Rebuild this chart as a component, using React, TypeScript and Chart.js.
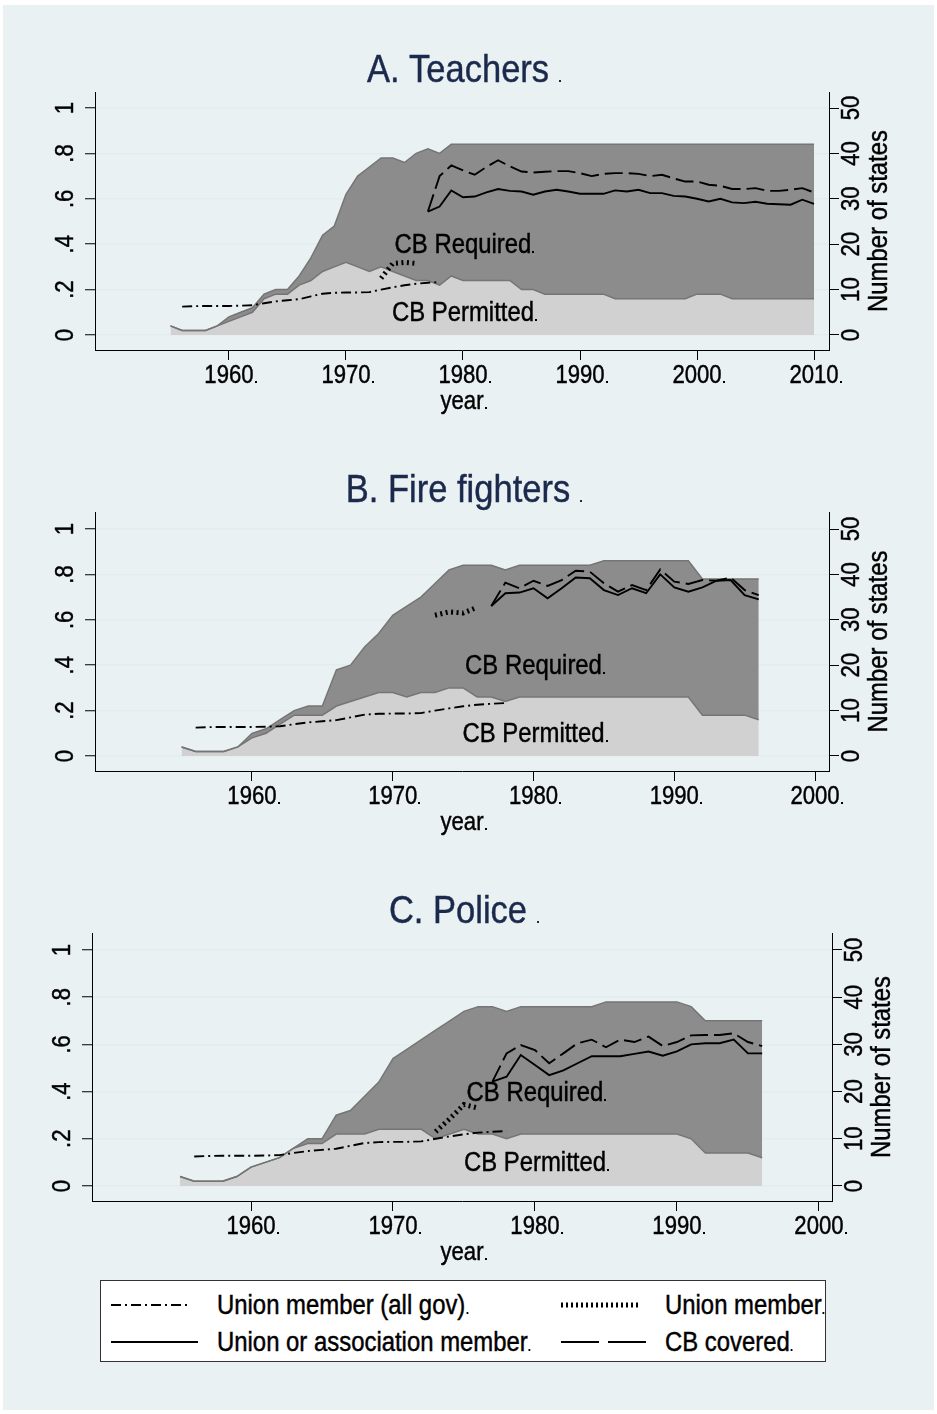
import React, { useEffect, useRef } from "react";
import { Chart, registerables } from "chart.js";

Chart.register(...registerables);

const FONT = '"Liberation Sans", Arial, Helvetica, sans-serif';
const TITLE_COLOR = "#1b2a4c";
const BG = "#eaf1f3";
const GRID = "#e3ecef";
const DARK = "#8c8c8c";
const LIGHT = "#d1d1d1";
const EDGE = "#757575";
const SQ = 0.885; // horizontal condensing of the text

// ---------- ticks ----------
const xTicksTeachers = [1960, 1970, 1980, 1990, 2000, 2010];
const xTicksOther = [1960, 1970, 1980, 1990, 2000];
const shareTicks = [0, 0.2, 0.4, 0.6, 0.8, 1];
const shareTickLabels = ["0", ".2", ".4", ".6", ".8", "1"];
const stateTicks = [0, 10, 20, 30, 40, 50];
const stateTickLabels = ["0", "10", "20", "30", "40", "50"];

// ---------- first years of each series ----------
const areaStartYear = 1955;
const allGovStartYear = 1956;
const unionStartYear = 1973;
const memberStartYear = 1977;

// ---------- shared series (share of workers) ----------
const unionMemberAllGov = [
  0.125, 0.127, 0.128, 0.128, 0.128, 0.129, 0.131, 0.14, 0.148, 0.153, 0.158, 0.17,
  0.182, 0.186, 0.187, 0.187, 0.189, 0.2, 0.21, 0.219, 0.226, 0.23, 0.233,
];

// ---------- A. Teachers ----------
const teachersPermitted = [
  2, 1, 1, 1, 2, 3, 4, 5, 8, 9,
  9, 11, 12, 14, 15, 16, 15, 14, 15, 14,
  13, 12, 12, 11, 13, 12, 12, 12, 12, 12,
  10, 10, 9, 9, 9, 9, 9, 9, 8, 8,
  8, 8, 8, 8, 8, 9, 9, 9, 8, 8,
  8, 8, 8, 8, 8, 8,
];
const teachersRequired = [
  0, 0, 0, 0, 0, 1, 1, 1, 1, 1,
  1, 2, 5, 8, 9, 15, 20, 23, 24, 25,
  25, 28, 29, 29, 29, 30, 30, 30, 30, 30,
  32, 32, 33, 33, 33, 33, 33, 33, 34, 34,
  34, 34, 34, 34, 34, 33, 33, 33, 34, 34,
  34, 34, 34, 34, 34, 34,
];
const teachersUnionMember = [0.25, 0.315, 0.32, 0.315];
const teachersUnionOrAssoc = [
  0.544, 0.566, 0.637, 0.607, 0.61, 0.628, 0.643, 0.635, 0.632, 0.618,
  0.632, 0.64, 0.632, 0.622, 0.622, 0.622, 0.637, 0.632, 0.64, 0.625,
  0.625, 0.613, 0.61, 0.6, 0.588, 0.6, 0.584, 0.581, 0.587, 0.578,
  0.576, 0.574, 0.596, 0.578,
];
const teachersCBCovered = [
  0.544, 0.7, 0.747, 0.725, 0.706, 0.74, 0.77, 0.743, 0.72, 0.716,
  0.719, 0.722, 0.722, 0.713, 0.7, 0.71, 0.713, 0.713, 0.71, 0.7,
  0.706, 0.69, 0.676, 0.676, 0.662, 0.657, 0.643, 0.643, 0.647, 0.635,
  0.635, 0.64, 0.647, 0.628,
];

// ---------- B. Fire fighters ----------
const firePermitted = [
  2, 1, 1, 1, 2, 4, 5, 7, 9, 9,
  9, 11, 12, 13, 14, 14, 13, 14, 14, 15,
  15, 13, 13, 12, 13, 13, 13, 13, 13, 13,
  13, 13, 13, 13, 13, 13, 13, 9, 9, 9,
  9, 8,
];
const fireRequired = [
  0, 0, 0, 0, 0, 1, 1, 1, 1, 2,
  2, 8, 8, 11, 13, 17, 20, 21, 24, 26,
  27, 29, 29, 29, 29, 29, 29, 29, 29, 29,
  30, 30, 30, 30, 30, 30, 30, 30, 30, 30,
  30, 31,
];
const fireUnionMember = [0.62, 0.635, 0.63, 0.655];
const fireUnionOrAssoc = [
  0.661, 0.717, 0.72, 0.739, 0.695, 0.739, 0.786, 0.783, 0.731, 0.709,
  0.739, 0.717, 0.8, 0.743, 0.724, 0.743, 0.772, 0.775, 0.709, 0.69,
];
const fireCBCovered = [
  0.661, 0.764, 0.739, 0.772, 0.749, 0.775, 0.816, 0.812, 0.761, 0.724,
  0.753, 0.731, 0.822, 0.768, 0.758, 0.775, 0.772, 0.786, 0.731, 0.709,
];

// ---------- C. Police ----------
const policePermitted = [
  2, 1, 1, 1, 2, 4, 5, 6, 8, 9,
  9, 11, 11, 11, 12, 12, 12, 12, 10, 11,
  12, 11, 11, 10, 11, 11, 11, 11, 11, 11,
  11, 11, 11, 11, 11, 11, 10, 7, 7, 7,
  7, 6,
];
const policeRequired = [
  0, 0, 0, 0, 0, 0, 0, 0, 0, 1,
  1, 4, 5, 8, 10, 15, 17, 19, 23, 24,
  25, 27, 27, 27, 27, 27, 27, 27, 27, 27,
  28, 28, 28, 28, 28, 28, 28, 28, 28, 28,
  28, 29,
];
const policeUnionMember = [0.23, 0.285, 0.345, 0.33];
const policeUnionOrAssoc = [
  0.442, 0.463, 0.555, 0.513, 0.47, 0.49, 0.52, 0.55, 0.55, 0.55,
  0.56, 0.57, 0.552, 0.57, 0.6, 0.605, 0.605, 0.62, 0.562, 0.562,
];
const policeCBCovered = [
  0.442, 0.562, 0.597, 0.576, 0.52, 0.562, 0.605, 0.62, 0.588, 0.62,
  0.61, 0.633, 0.593, 0.61, 0.638, 0.64, 0.64, 0.647, 0.61, 0.593,
];

const labelRequired = "CB Required";
const labelPermitted = "CB Permitted";
const labelPosYear = 1980;
const labelRequiredY = 0.4;
const labelPermittedY = 0.1;

type Panel = {
  title: string;
  permitted: number[];
  required: number[];
  unionMember: number[];
  unionOrAssoc: number[];
  cbCovered: number[];
  xTicks: number[];
  xMin: number;
  xMax: number;
  yMin: number;
  yMax: number;
  top: number;
  height: number;
  pad: { left: number; right: number; top: number; bottom: number };
};

const W = 931;

const panels: Panel[] = [
  {
    title: "A. Teachers",
    permitted: teachersPermitted,
    required: teachersRequired,
    unionMember: teachersUnionMember,
    unionOrAssoc: teachersUnionOrAssoc,
    cbCovered: teachersCBCovered,
    xTicks: xTicksTeachers,
    xMin: 1948.55,
    xMax: 2011.28,
    yMin: -0.0661,
    yMax: 1.0705,
    top: 0,
    height: 420,
    pad: { left: 82, right: 95, top: 87, bottom: 65 },
  },
  {
    title: "B. Fire fighters",
    permitted: firePermitted,
    required: fireRequired,
    unionMember: fireUnionMember,
    unionOrAssoc: fireUnionOrAssoc,
    cbCovered: fireCBCovered,
    xTicks: xTicksOther,
    xMin: 1948.85,
    xMax: 2000.99,
    yMin: -0.0661,
    yMax: 1.0749,
    top: 420,
    height: 420,
    pad: { left: 82, right: 95, top: 87, bottom: 64 },
  },
  {
    title: "C. Police",
    permitted: policePermitted,
    required: policeRequired,
    unionMember: policeUnionMember,
    unionOrAssoc: policeUnionOrAssoc,
    cbCovered: policeCBCovered,
    xTicks: xTicksOther,
    xMin: 1948.8,
    xMax: 2000.92,
    yMin: -0.0636,
    yMax: 1.072,
    top: 840,
    height: 425,
    pad: { left: 79, right: 92, top: 88, bottom: 59 },
  },
];

const pts = (start: number, vals: number[]) => vals.map((v, i) => ({ x: start + i, y: v }));

function drawText(
  ctx: CanvasRenderingContext2D,
  text: string,
  x: number,
  y: number,
  size: number,
  opts: { rot?: boolean; dot?: number; baseline?: CanvasTextBaseline } = {}
) {
  ctx.save();
  ctx.translate(x, y);
  if (opts.rot) ctx.rotate(-Math.PI / 2);
  ctx.scale(SQ, 1);
  ctx.font = `${size}px ${FONT}`;
  ctx.textAlign = "center";
  ctx.textBaseline = opts.baseline || "alphabetic";
  ctx.fillText(text, 0, 0);
  ctx.lineWidth = 0.45;
  ctx.strokeStyle = ctx.fillStyle as string;
  ctx.strokeText(text, 0, 0);
  const w = ctx.measureText(text).width * SQ;
  ctx.restore();
  if (opts.dot !== undefined) {
    ctx.fillRect(Math.round(x + w / 2 + opts.dot), Math.round(y - 2), 2, 2);
  }
}

function makeTextPlugin(p: Panel) {
  return {
    id: "panelText",
    afterDraw(chart: any) {
      const ctx: CanvasRenderingContext2D = chart.ctx;
      const a = chart.chartArea;
      const xs = chart.scales.x;
      const ys = chart.scales.y;
      const ss = chart.scales.yS;
      const midX = (a.left + a.right) / 2;
      ctx.save();
      // title
      ctx.fillStyle = TITLE_COLOR;
      drawText(ctx, p.title, midX - 4, a.top - 10, 39, { dot: 10 });

      ctx.fillStyle = "#000";
      // x tick labels
      p.xTicks.forEach((t) => {
        drawText(ctx, String(t), xs.getPixelForValue(t), a.bottom + 33, 25, { dot: 1 });
      });
      // x title
      drawText(ctx, "year", midX, a.bottom + 59, 25, { dot: 1 });

      // left y tick labels (rotated)
      shareTicks.forEach((v, i) => {
        drawText(ctx, shareTickLabels[i], a.left - 29, ys.getPixelForValue(v), 25, {
          rot: true,
          baseline: "middle",
        });
      });
      // right y tick labels
      stateTicks.forEach((v, i) => {
        drawText(ctx, stateTickLabels[i], a.right + 23, ss.getPixelForValue(v), 25, {
          rot: true,
          baseline: "middle",
        });
      });
      // right axis title
      drawText(ctx, "Number of states", a.right + 51, (a.top + a.bottom) / 2, 27, {
        rot: true,
        baseline: "middle",
      });

      // area labels
      const lx = xs.getPixelForValue(labelPosYear);
      drawText(ctx, labelRequired, lx, ys.getPixelForValue(labelRequiredY) + 9, 27, { dot: 1 });
      drawText(ctx, labelPermitted, lx, ys.getPixelForValue(labelPermittedY) + 9, 27, { dot: 1 });
      ctx.restore();
    },
  };
}

function PanelChart({ p }: { p: Panel }) {
  const ref = useRef<HTMLCanvasElement | null>(null);
  useEffect(() => {
    if (!ref.current) return;
    const lineBase = { yAxisID: "y", borderColor: "#000", fill: false, pointRadius: 0, tension: 0 };
    const chart = new Chart(ref.current, {
      type: "line",
      data: {
        datasets: [
          {
            label: labelPermitted,
            data: pts(areaStartYear, p.permitted),
            yAxisID: "yS",
            stack: "cb",
            fill: "origin",
            backgroundColor: LIGHT,
            borderColor: EDGE,
            borderWidth: 1.5,
            pointRadius: 0,
            order: 9,
          },
          {
            label: labelRequired,
            data: pts(areaStartYear, p.required),
            yAxisID: "yS",
            stack: "cb",
            fill: "-1",
            backgroundColor: DARK,
            borderColor: EDGE,
            borderWidth: 1.5,
            pointRadius: 0,
            order: 10,
          },
          {
            ...lineBase,
            label: "Union member (all gov)",
            data: pts(allGovStartYear, unionMemberAllGov),
            borderWidth: 1.9,
            borderDash: [10, 4, 2, 4],
            order: 4,
          },
          {
            ...lineBase,
            label: "Union member",
            data: pts(unionStartYear, p.unionMember),
            borderWidth: 5,
            borderDash: [2, 3.5],
            order: 3,
          },
          {
            ...lineBase,
            label: "Union or association member",
            data: pts(memberStartYear, p.unionOrAssoc),
            borderWidth: 1.9,
            order: 2,
          },
          {
            ...lineBase,
            label: "CB covered",
            data: pts(memberStartYear, p.cbCovered),
            borderWidth: 1.9,
            borderDash: [18, 6],
            order: 1,
          },
        ] as any,
      },
      options: {
        animation: false,
        responsive: false,
        devicePixelRatio: 1,
        layout: { padding: p.pad },
        plugins: {
          legend: { display: false },
          tooltip: { enabled: false },
          title: { display: false },
          filler: { drawTime: "beforeDatasetsDraw" },
        } as any,
        scales: {
          x: {
            type: "linear",
            min: p.xMin,
            max: p.xMax,
            grid: { drawOnChartArea: false, drawTicks: true, tickLength: 10, tickColor: "#000", tickWidth: 1 },
            border: { display: true, color: "#000", width: 1 },
            ticks: { display: false },
            afterBuildTicks: (s: any) => {
              s.ticks = p.xTicks.map((v) => ({ value: v }));
            },
            afterFit: (s: any) => {
              s.height = 10;
            },
          },
          y: {
            type: "linear",
            position: "left",
            min: p.yMin,
            max: p.yMax,
            grid: { color: GRID, lineWidth: 1.5, drawTicks: true, tickLength: 10, tickColor: "#000", tickWidth: 1 },
            border: { display: true, color: "#000", width: 1 },
            ticks: { display: false },
            afterBuildTicks: (s: any) => {
              s.ticks = shareTicks.map((v) => ({ value: v }));
            },
            afterFit: (s: any) => {
              s.width = 10;
            },
          },
          yS: {
            type: "linear",
            position: "right",
            stacked: true,
            min: p.yMin * 50,
            max: p.yMax * 50,
            grid: { drawOnChartArea: false, drawTicks: true, tickLength: 10, tickColor: "#000", tickWidth: 1 },
            border: { display: true, color: "#000", width: 1 },
            ticks: { display: false },
            afterBuildTicks: (s: any) => {
              s.ticks = stateTicks.map((v) => ({ value: v }));
            },
            afterFit: (s: any) => {
              s.width = 10;
            },
          },
        } as any,
      },
      plugins: [makeTextPlugin(p)],
    });
    return () => chart.destroy();
  }, [p]);
  return (
    <canvas
      ref={ref}
      width={W}
      height={p.height}
      style={{ position: "absolute", left: 0, top: p.top, width: W, height: p.height, display: "block" }}
    />
  );
}

const legendRows = [
  [
    { label: "Union member (all gov)", dash: "10 4 2 4", width: 1.9, len: 76 },
    { label: "Union member", dash: "2 3", width: 5, len: 80 },
  ],
  [
    { label: "Union or association member", dash: "", width: 1.9, len: 87 },
    { label: "CB covered", dash: "38 9", width: 1.9, len: 85 },
  ],
];

function Legend() {
  const rowCenters = [24, 61];
  const sampleX = [10, 460];
  const textX = [116, 564];
  return (
    <div
      style={{
        position: "absolute",
        left: 97,
        top: 1275,
        width: 726,
        height: 82,
        background: "#fff",
        border: "1px solid #333",
        boxSizing: "border-box",
      }}
    >
      {legendRows.map((row, ri) =>
        row.map((it, ci) => (
          <React.Fragment key={`${ri}-${ci}`}>
            <svg
              width={it.len}
              height={10}
              style={{ position: "absolute", left: sampleX[ci], top: rowCenters[ri] - 5 }}
            >
              <line
                x1={0}
                y1={5}
                x2={it.len}
                y2={5}
                stroke="#000"
                strokeWidth={it.width}
                strokeDasharray={it.dash || undefined}
              />
            </svg>
            <div
              style={{
                position: "absolute",
                left: textX[ci],
                top: rowCenters[ri] - 16,
                height: 32,
                lineHeight: "32px",
                fontFamily: FONT,
                fontSize: 27,
                color: "#000",
                whiteSpace: "nowrap",
                transform: `scaleX(${SQ})`,
                transformOrigin: "0 50%",
                WebkitTextStroke: "0.45px #000",
              }}
            >
              {it.label}
              <span
                style={{
                  display: "inline-block",
                  width: 2,
                  height: 2,
                  background: "#000",
                  marginLeft: 1,
                  verticalAlign: "baseline",
                }}
              />
            </div>
          </React.Fragment>
        ))
      )}
    </div>
  );
}

export default function App() {
  return (
    <div
      style={{
        position: "absolute",
        left: 3,
        top: 5,
        width: W,
        height: 1405,
        background: BG,
        overflow: "hidden",
      }}
    >
      {panels.map((p) => (
        <PanelChart key={p.title} p={p} />
      ))}
      <Legend />
    </div>
  );
}
